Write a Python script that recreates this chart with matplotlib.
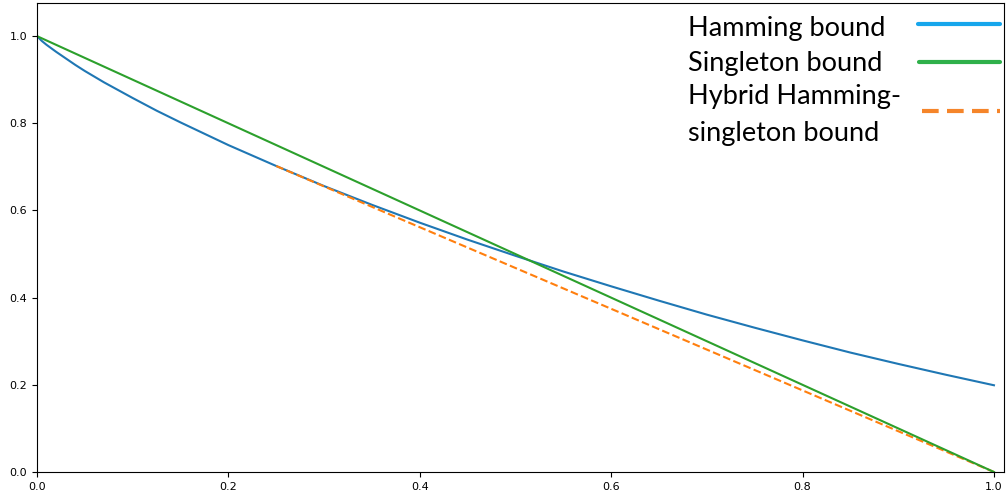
import matplotlib
matplotlib.use("Agg")
import matplotlib.pyplot as plt

# relative distance vs rate
delta = [0.0, 0.005, 0.01, 0.02, 0.03, 0.04, 0.05, 0.07, 0.1, 0.125, 0.15, 0.2, 0.25,
         0.3, 0.35, 0.4, 0.45, 0.5, 0.55, 0.6, 0.65, 0.7, 0.75, 0.8, 0.85, 0.9, 0.95, 1.0]
hamming = [1.0, 0.989, 0.980, 0.964, 0.949, 0.934, 0.920, 0.894, 0.858, 0.829, 0.802,
           0.750, 0.702, 0.656, 0.613, 0.572, 0.533, 0.496, 0.460, 0.426, 0.393, 0.361,
           0.331, 0.302, 0.274, 0.248, 0.223, 0.199]
singleton_x = [0.0, 1.0]
singleton = [1.0, 0.0]
hybrid_x = [0.25, 1.0]
hybrid = [0.702, 0.0]

legend_labels = ["Hamming bound", "Singleton bound", "Hybrid Hamming-", "singleton bound"]

W, H = 1006, 500
fig = plt.figure(figsize=(W / 100, H / 100), dpi=100)
ax = fig.add_axes([37 / W, 28 / H, (1004 - 37) / W, (472 - 3) / H])

ax.plot(delta, hamming, color="#1f77b4", lw=1.5)
ax.plot(hybrid_x, hybrid, color="#ff7f0e", lw=1.5, ls="--")
ax.plot(singleton_x, singleton, color="#2ca02c", lw=1.5)

ax.set_xlim(0, 1.0105)
ax.set_ylim(0, 1.076)
ax.set_xticks([0.0, 0.2, 0.4, 0.6, 0.8, 1.0])
ax.set_yticks([0.0, 0.2, 0.4, 0.6, 0.8, 1.0])
ax.tick_params(labelsize=8)


def fx(px):
    return px / W


def fy(py):
    return 1 - py / H


# legend pasted as an image in the original: text on the left, sample line on the right
font = dict(family=["Lato", "DejaVu Sans"], fontsize=19.5, color="black", va="baseline")
fig.text(fx(688), fy(36), legend_labels[0], **font)
fig.text(fx(688), fy(71), legend_labels[1], **font)
fig.text(fx(688), fy(104), legend_labels[2], **font)
fig.text(fx(688), fy(141), legend_labels[3], **font)

fig.add_artist(plt.Line2D([fx(918), fx(1000)], [fy(24), fy(24)], color="#17a6ec",
                          lw=3, solid_capstyle="round"))
fig.add_artist(plt.Line2D([fx(919), fx(1000)], [fy(62), fy(62)], color="#2fb04a",
                          lw=3, solid_capstyle="round"))
fig.add_artist(plt.Line2D([fx(922), fx(1000)], [fy(111), fy(111)], color="#f5852a",
                          lw=3, ls=(0, (4, 2))))

fig.savefig("out.png", dpi=100)
